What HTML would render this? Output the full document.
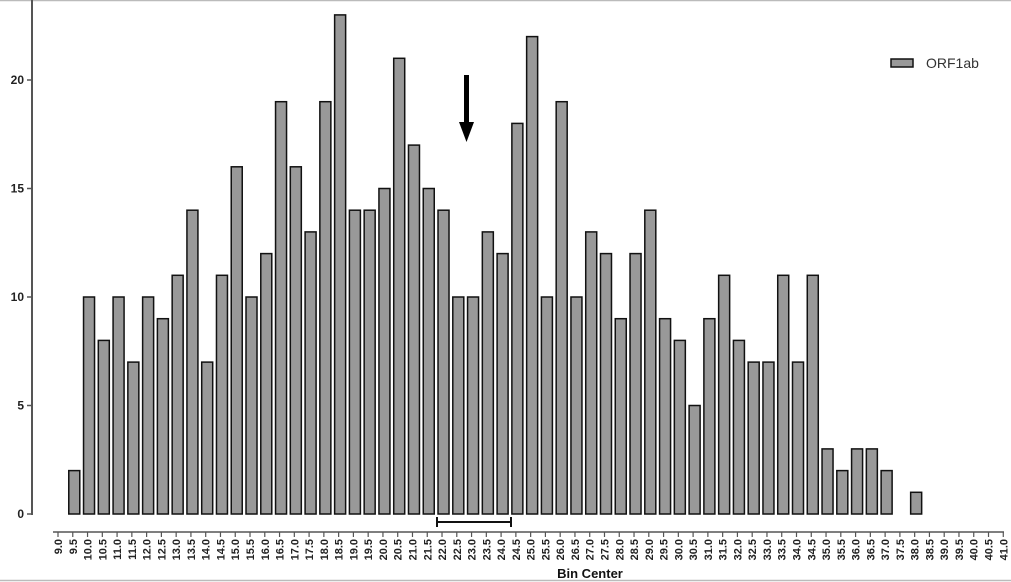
<!DOCTYPE html>
<html><head><meta charset="utf-8"><style>
html,body{margin:0;padding:0;background:#fff;}
svg{display:block;font-family:"Liberation Sans",Arial,sans-serif;}
</style></head><body>
<svg id="c" width="1011" height="582" viewBox="0 0 1011 582" xmlns="http://www.w3.org/2000/svg">
<line x1="0" y1="0.5" x2="1011" y2="0.5" stroke="#bbb" stroke-width="1.5"/>
<line x1="0" y1="580.5" x2="1011" y2="580.5" stroke="#bbb" stroke-width="1.5"/>
<line x1="32" y1="0" x2="32" y2="515" stroke="#555" stroke-width="2"/>
<g id="yt"></g>
<g id="bars"></g>
<line x1="53" y1="532" x2="1004" y2="532" stroke="#555" stroke-width="1.5"/>
<g id="xt"></g>
<line x1="437" y1="522" x2="511" y2="522" stroke="#111" stroke-width="2"/>
<line x1="437" y1="517" x2="437" y2="527" stroke="#111" stroke-width="2"/>
<line x1="511" y1="517" x2="511" y2="527" stroke="#111" stroke-width="2"/>
<rect x="464" y="75" width="5" height="50" fill="#000"/>
<polygon points="459,122 474,122 466.5,142" fill="#000"/>
<rect x="891" y="59" width="22" height="8" fill="#999" stroke="#111" stroke-width="1.5"/>
<text x="926" y="68" font-size="14" fill="#333">ORF1ab</text>
<text x="590" y="578" font-size="13" font-weight="bold" text-anchor="middle" fill="#111">Bin Center</text>
</svg>
<script>
var ns="http://www.w3.org/2000/svg";
function el(t,a,p,txt){var e=document.createElementNS(ns,t);for(var k in a)e.setAttribute(k,a[k]);if(txt!==undefined)e.textContent=txt;document.getElementById(p).appendChild(e);}
var y0=514,u=21.7;
[0,5,10,15,20].forEach(function(v){var y=y0-v*u;
el('line',{x1:27,y1:y,x2:32,y2:y,stroke:'#555','stroke-width':1.5},'yt');
el('text',{x:24,y:y+4,'font-size':12,'font-weight':'bold','text-anchor':'end',fill:'#222'},'yt',String(v));});
var vals=[2,10,8,10,7,10,9,11,14,7,11,16,10,12,19,16,13,19,23,14,14,15,21,17,15,14,10,10,13,12,18,22,10,19,10,13,12,9,12,14,9,8,5,9,11,8,7,7,11,7,11,3,2,3,3,2,0,1];
var x0=58,s=14.77;
vals.forEach(function(v,i){if(!v)return;var cx=x0+(i+1)*s+1.5;
el('rect',{x:cx-5.5,y:y0-v*u,width:11,height:v*u,fill:'#999',stroke:'#111','stroke-width':1.5},'bars');});
for(var i=0;i<=64;i++){var x=x0+i*s;var lab=(9+i*0.5).toFixed(1);
el('line',{x1:x,y1:532,x2:x,y2:537,stroke:'#555','stroke-width':1.2},'xt');
el('text',{x:0,y:0,'font-size':11,'font-weight':'bold','text-anchor':'end',fill:'#222',transform:'translate('+(x+4)+',539) rotate(-90)'},'xt',lab);}
</script>
</body></html>
